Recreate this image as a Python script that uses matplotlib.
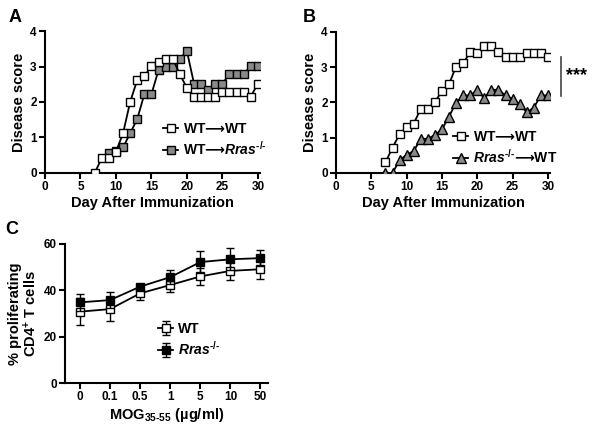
import numpy as np
import matplotlib
matplotlib.use("Agg")
import matplotlib.pyplot as plt

plt.rcParams['font.family'] = ['Liberation Sans', 'DejaVu Sans']
plt.rcParams['font.weight'] = 'bold'
plt.rcParams['mathtext.fontset'] = 'custom'
plt.rcParams['mathtext.rm'] = 'Liberation Sans:bold'
plt.rcParams['mathtext.it'] = 'Liberation Sans:bold:italic'
plt.rcParams['mathtext.bf'] = 'Liberation Sans:bold'
plt.rcParams['mathtext.sf'] = 'DejaVu Sans:bold'

# panel A
dias_a_wt = [7, 8, 9, 10, 11, 12, 13, 14, 15, 16, 17, 18, 19, 20, 21, 22, 23, 24, 25, 26, 27, 28, 29, 30]
score_a_wt = [0, 0.42, 0.42, 0.6, 1.12, 2.0, 2.62, 2.72, 3.02, 3.12, 3.22, 3.22, 2.78, 2.4, 2.15, 2.15, 2.15, 2.15,
              2.28, 2.28, 2.28, 2.28, 2.15, 2.52]
dias_a_ko = [9, 10, 11, 12, 13, 14, 15, 16, 17, 18, 19, 20, 21, 22, 23, 24, 25, 26, 27, 28, 29, 30]
score_a_ko = [0.55, 0.62, 0.72, 1.12, 1.52, 2.22, 2.22, 2.9, 3.0, 3.0, 3.22, 3.43, 2.52, 2.52, 2.33, 2.52, 2.52,
              2.78, 2.78, 2.78, 3.02, 3.02]

# panel B
dias_b = [7, 8, 9, 10, 11, 12, 13, 14, 15, 16, 17, 18, 19, 20, 21, 22, 23, 24, 25, 26, 27, 28, 29, 30]
score_b_wt = [0.3, 0.72, 1.1, 1.3, 1.4, 1.82, 1.82, 2.02, 2.32, 2.52, 3.02, 3.12, 3.42, 3.4, 3.6, 3.6, 3.42, 3.3,
              3.3, 3.3, 3.4, 3.4, 3.4, 3.3]
score_b_ko = [0, 0, 0.36, 0.52, 0.62, 0.97, 0.97, 1.08, 1.24, 1.6, 1.99, 2.2, 2.2, 2.36, 2.12, 2.36, 2.36, 2.2,
              2.1, 1.96, 1.72, 1.85, 2.2, 2.2]

# panel C
dosis = ["0", "0.1", "0.5", "1", "5", "10", "50"]
prolif_wt = [30.8, 31.9, 38.7, 42.3, 46.0, 48.4, 49.1]
err_wt = [5.8, 5.2, 3.0, 3.1, 3.7, 3.9, 4.3]
prolif_ko = [34.8, 35.8, 41.6, 45.7, 52.2, 53.4, 53.9]
err_ko = [3.6, 3.4, 1.0, 2.9, 4.6, 4.8, 3.6]

ko = r"$\mathit{Rras}^{\text{-/-}}$"
flecha = "$\\mathsf{\u27f6}$"

W, H = 600, 424
fig = plt.figure(figsize=(6, 4.24), dpi=100)

def ejes(x0, x1, ytop, ybot):
    ax = fig.add_axes([x0 / W, 1 - ybot / H, (x1 - x0) / W, (ybot - ytop) / H])
    for s in ['top', 'right']:
        ax.spines[s].set_visible(False)
    for s in ['left', 'bottom']:
        ax.spines[s].set_linewidth(1.5)
    ax.tick_params(width=1.5, length=4, labelsize=8.5, pad=2)
    return ax

def leyenda(ax, px, py):
    ax.legend(loc='upper left', bbox_to_anchor=(px / W, 1 - py / H), bbox_transform=fig.transFigure,
              frameon=False, handlelength=1.1, handletextpad=0.35, labelspacing=0.3, borderpad=0,
              borderaxespad=0, prop=dict(size=10, weight='bold'))

gris = '#8a8a8a'
kw_blanco = dict(color='black', lw=1.3, marker='s', ms=5.3, mfc='white', mec='black', mew=1.0)
kw_gris = dict(color='black', lw=1.3, marker='s', ms=5.3, mfc=gris, mec='black', mew=1.0)

# ---------------- A
axA = ejes(45, 260, 31, 173)
axA.plot(dias_a_ko, score_a_ko, zorder=3, **kw_gris)
axA.plot(dias_a_wt, score_a_wt, zorder=4, **kw_blanco)
axA.plot([], [], label="WT" + flecha + "WT", **kw_blanco)
axA.plot([], [], label="WT" + flecha + ko, **kw_gris)
axA.set_xlim(0, 30.3)
axA.set_ylim(0, 4)
axA.set_xticks(range(0, 31, 5))
axA.set_yticks(range(0, 5))
axA.set_xlabel("Day After Immunization", fontsize=10.5, fontweight='bold', labelpad=2)
axA.set_ylabel("Disease score", fontsize=10.5, fontweight='bold', labelpad=3)
leyenda(axA, 163, 122)

# ---------------- B
axB = ejes(336, 550, 32, 173)
axB.plot(dias_b, score_b_wt, label="WT" + flecha + "WT", zorder=4, **kw_blanco)
axB.plot(dias_b, score_b_ko, label=ko + flecha + "WT", zorder=3, color='black', lw=1.3, marker='^',
         ms=6.5, mfc=gris, mec='black', mew=1.0)
axB.set_xlim(0, 30.3)
axB.set_ylim(0, 4)
axB.set_xticks(range(0, 31, 5))
axB.set_yticks(range(0, 5))
axB.set_xlabel("Day After Immunization", fontsize=10.5, fontweight='bold', labelpad=2)
axB.set_ylabel("Disease score", fontsize=10.5, fontweight='bold', labelpad=3)
leyenda(axB, 453, 130)
axB.plot([31.9, 31.9], [2.19, 3.3], color='#444444', lw=1.2, clip_on=False)
axB.text(32.6, 2.75, "***", fontsize=13, fontweight='bold', va='center', ha='left')

# ---------------- C
axC = ejes(65, 268, 244, 383)
xs = np.arange(len(dosis))
axC.errorbar(xs, prolif_wt, yerr=err_wt, capsize=3, elinewidth=1.0, capthick=1.0, zorder=3,
             label="WT", **kw_blanco)
axC.errorbar(xs, prolif_ko, yerr=err_ko, capsize=3, elinewidth=1.0, capthick=1.0, zorder=4,
             label=ko, color='black', lw=1.3, marker='s', ms=5.3, mfc='black', mec='black')
axC.set_xlim(-0.5, 6.25)
axC.set_ylim(0, 60)
axC.set_xticks(xs)
axC.set_xticklabels(dosis)
axC.set_yticks([0, 20, 40, 60])
axC.set_xlabel("MOG$_{\\text{35-55}}$ (\u00b5g/ml)", fontsize=10.5, fontweight='bold', labelpad=2)
axC.set_ylabel("% proliferating\nCD4$^{+}$ T cells", fontsize=10.5, fontweight='bold', labelpad=3,
               linespacing=1.0)
leyenda(axC, 158, 322)

# letras de panel
for letra, px, py in [("A", 9, 17), ("B", 303, 17), ("C", 5, 229)]:
    fig.text(px / W, 1 - py / H, letra, fontsize=13, fontweight='bold', va='center', ha='left')

fig.savefig("out.png", dpi=100)
